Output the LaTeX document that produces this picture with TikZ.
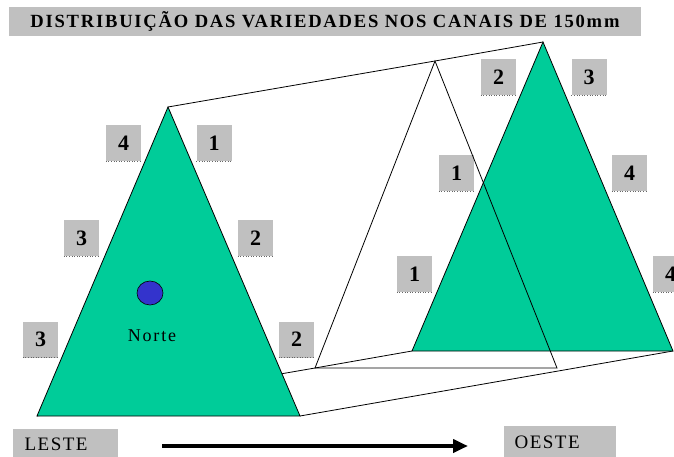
\documentclass[tikz,border=0pt]{standalone}
\usepackage{fontspec}
\setmainfont{Liberation Serif}
\usetikzlibrary{arrows.meta,shapes.geometric}
\definecolor{tgreen}{RGB}{0,204,153}
\definecolor{tblue}{RGB}{51,51,204}
\definecolor{boxgray}{RGB}{192,192,192}
\begin{document}
\begin{tikzpicture}[x=1pt,y=-1pt,line join=miter,
  numbox/.style={fill=boxgray,minimum width=35pt,minimum height=36pt,inner sep=0pt,
    font=\fontsize{22}{22}\bfseries\selectfont},
  shadowline/.style={draw=gray!80!black,dotted,line width=0.6pt},
  tri/.style={fill=tgreen,draw=black,line width=0.8pt},
  link/.style={draw=black,line width=0.8pt}]
\useasboundingbox (0,0) rectangle (674,457);
% title
\node[fill=boxgray,minimum width=632pt,minimum height=29pt,inner sep=0pt,
  font=\fontsize{18.6}{18.6}\bfseries\selectfont\addfontfeature{LetterSpace=9.5}]
  (title) at (325,21.5) {DISTRIBUIÇÃO DAS VARIEDADES NOS CANAIS DE 150mm};
% vertices
\coordinate (LA) at (168,107); \coordinate (LL) at (37,416); \coordinate (LR) at (300,416);
\coordinate (WA) at (435,61);  \coordinate (WL) at (315,368); \coordinate (WR) at (557,368);
\coordinate (GA) at (543,42);  \coordinate (GL) at (412,351); \coordinate (GR) at (673,351);
% connecting edges
\draw[link] (LA) -- (WA) -- (GA);
\draw[link] (LL) -- (WL) -- (GL);
\draw[link] (LR) -- (GR);
% left triangle
\draw[tri] (LA) -- (LR) -- (LL) -- cycle;
% right green triangle
\draw[tri] (GA) -- (GR) -- (GL) -- cycle;
% number boxes
\foreach \n/\t/\x/\y in {a/4/123.5/143.5, b/1/214/143.5, c/3/81.5/238, d/2/255.5/238,
  e/3/40.5/339.5, f/2/296.5/339.5, g/2/498.5/77, h/3/589/77, i/1/456.5/173,
  j/4/629.5/173, k/1/414.5/274, l/4/670.5/274}{
  \node[numbox] (box\n) at (\x,\y) {\t};
  \draw[shadowline] (box\n.south west) -- (box\n.south east);
}
% white triangle outline
\draw[link] (WA) -- (WR) -- (WL) -- cycle;
% north marker
\node[ellipse,draw=black,fill=tblue,minimum width=26pt,minimum height=24pt,inner sep=0pt,line width=0.6pt]
  (dot) at (150,293) {};
\node[font=\fontsize{18}{18}\selectfont\addfontfeature{LetterSpace=10}] (norte) at (152,336) {Norte};
% direction labels
\node[fill=boxgray,minimum width=105pt,minimum height=28pt,inner sep=0pt] (leste) at (65.5,443) {};
\node[font=\fontsize{19}{19}\selectfont\addfontfeature{LetterSpace=8},anchor=west] (lestet) at (21,444) {LESTE};
\node[fill=boxgray,minimum width=112pt,minimum height=31pt,inner sep=0pt] (oeste) at (560,441.5) {};
\node[font=\fontsize{19}{19}\selectfont\addfontfeature{LetterSpace=8},anchor=west] (oestet) at (511,442) {OESTE};
\coordinate (arrS) at (162,446);
\coordinate (arrE) at (468,446);
\draw[line width=4.5pt,-{Triangle[length=15pt,width=13pt]}] (arrS) -- (arrE);
\end{tikzpicture}
\end{document}
